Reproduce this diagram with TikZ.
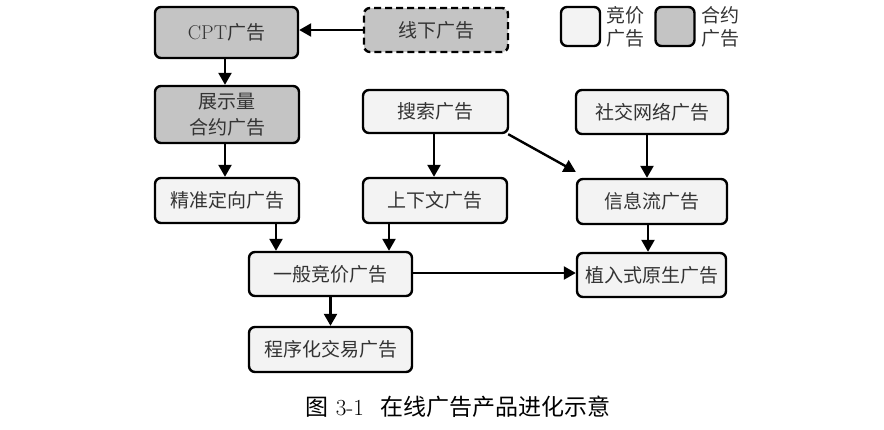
\documentclass[tikz,border=0pt]{standalone}
\usepackage{fontspec}
\newfontfamily\cjk{Noto Sans CJK SC}
\usetikzlibrary{arrows.meta}
\definecolor{contractfill}{HTML}{C4C4C4}
\definecolor{bidfill}{HTML}{F3F3F3}
\definecolor{txt}{HTML}{333333}
\tikzset{
  box/.style={draw=black, line width=2.4pt, rounded corners=6pt, inner sep=0pt,
    font=\cjk\fontsize{19}{26}\selectfont, text=txt, align=center},
  bid/.style={box, fill=bidfill},
  contract/.style={box, fill=contractfill},
  arr/.style={line width=2.4pt, -{Triangle[length=12pt,width=13pt]}},
  legtext/.style={anchor=west, inner sep=0pt, font=\cjk\fontsize{19}{23}\selectfont, text=txt, align=left},
}
\begin{document}
\begin{tikzpicture}[x=1pt,y=-1pt]
\useasboundingbox (0,0) rectangle (884,429);
% nodes
\node[contract, minimum width=143pt, minimum height=51pt] (cpt) at (226.5,32.5) {{\rmfamily\fontsize{20}{24}\selectfont CPT}广告};
\node[contract, dashed, dash pattern=on 7pt off 4pt, minimum width=144pt, minimum height=44pt] (xianxia) at (436,30) {线下广告};
\node[contract, minimum width=144pt, minimum height=57pt] (zhanshi) at (227,114.5) {展示量\\合约广告};
\node[bid, minimum width=145pt, minimum height=43pt] (sousuo) at (435.5,111.5) {搜索广告};
\node[bid, minimum width=152pt, minimum height=44pt] (shejiao) at (652,112) {社交网络广告};
\node[bid, minimum width=144pt, minimum height=45pt] (jingzhun) at (227,200.5) {精准定向广告};
\node[bid, minimum width=144pt, minimum height=45pt] (shangxia) at (435,200.5) {上下文广告};
\node[bid, minimum width=150pt, minimum height=45pt] (xinxi) at (652,201.5) {信息流广告};
\node[bid, minimum width=163pt, minimum height=44pt] (yiban) at (330.5,274) {一般竞价广告};
\node[bid, minimum width=149pt, minimum height=44pt] (zhiru) at (651.5,275) {植入式原生广告};
\node[bid, minimum width=163pt, minimum height=45pt] (chengxu) at (330.5,349.5) {程序化交易广告};
% legend
\node[bid, minimum width=39pt, minimum height=39pt] (lg1) at (580.5,26.5) {};
\node[legtext] (lt1) at (606,27) {竞价\\广告};
\node[contract, minimum width=39pt, minimum height=39pt] (lg2) at (675,26.5) {};
\node[legtext] (lt2) at (701,27) {合约\\广告};
% caption
\node[inner sep=0pt, font=\fontsize{23}{26}\selectfont, text=black] (cap) at (458,407) {{\cjk 图} 3-1\hspace{0.7em}{\cjk 在线广告产品进化示意}};
% connectors
\draw[arr] (xianxia.west) -- (cpt.east |- xianxia.west);
\draw[arr] ([xshift=-1.5pt]cpt.south) -- ([xshift=-1.5pt]cpt.south |- zhanshi.north);
\draw[arr] ([xshift=-2pt]zhanshi.south) -- ([xshift=-2pt]zhanshi.south |- jingzhun.north);
\draw[arr] ([xshift=-1.5pt]sousuo.south) -- ([xshift=-1.5pt]sousuo.south |- shangxia.north);
\coordinate (dstart) at ([xshift=-1pt]sousuo.south east);
\coordinate (dend) at ([yshift=6pt]xinxi.north west);
\draw[arr] (dstart) -- (dend);
\draw[arr] ([xshift=-5pt]shejiao.south) -- ([xshift=-5pt]shejiao.south |- xinxi.north);
\draw[arr] ([xshift=49pt]jingzhun.south) -- ([xshift=49pt]jingzhun.south |- yiban.north);
\draw[arr] ([xshift=-46pt]shangxia.south) -- ([xshift=-46pt]shangxia.south |- yiban.north);
\draw[arr] (yiban.south) -- (chengxu.north);
\draw[arr] ([xshift=-4pt]xinxi.south) -- ([xshift=-4pt]xinxi.south |- zhiru.north);
\draw[arr] ([yshift=1pt]yiban.east) -- ([yshift=1pt]zhiru.west |- yiban.east);
\end{tikzpicture}
\end{document}
